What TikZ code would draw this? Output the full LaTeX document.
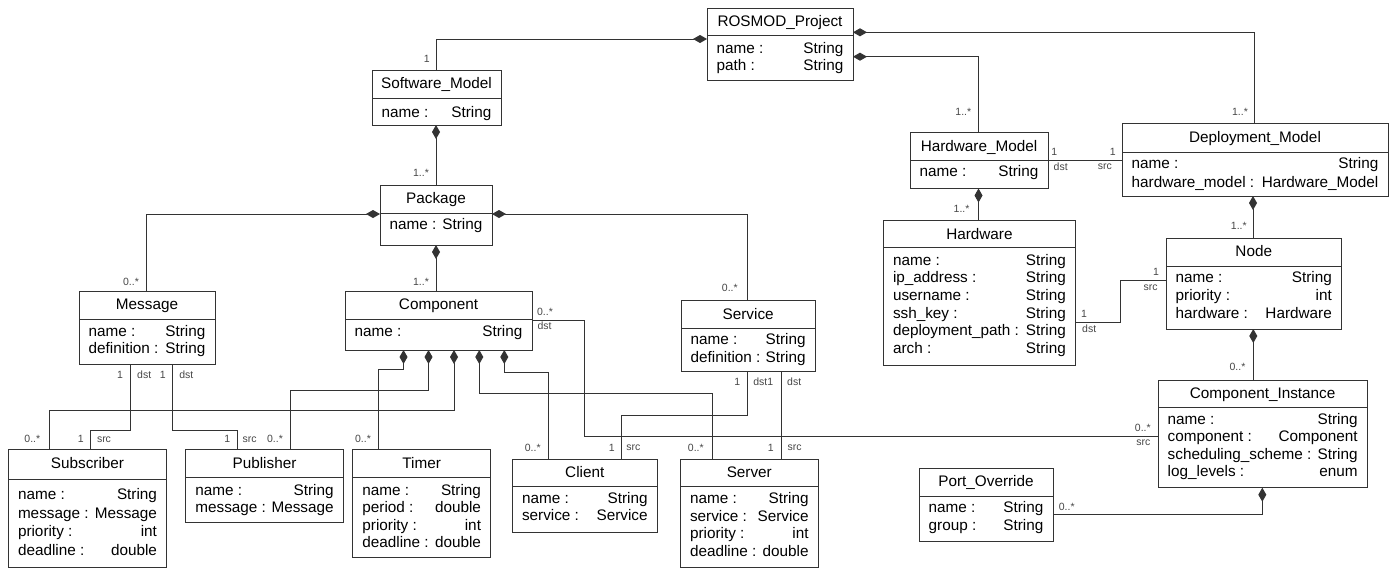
\documentclass[tikz,border=0pt]{standalone}
\usepackage{fontspec}
\setmainfont{Liberation Sans}
\usetikzlibrary{arrows.meta}
\definecolor{linec}{gray}{0.2}
\definecolor{labc}{gray}{0.28}

% class box: id, left, top, right, divider, bottom, title
\newcommand{\umlclass}[7]{%
  \pgfmathsetmacro{\bw}{#4-#2}%
  \pgfmathsetmacro{\bh}{#6-#3}%
  \node[classbox, minimum width=\bw pt, minimum height=\bh pt, anchor=north west] (#1) at (#2,#3) {};
  \draw[boxrule] (#2,#5) -- (#4,#5);
  \pgfmathsetmacro{\cx}{(#2+#4)/2}%
  \pgfmathsetmacro{\ty}{(#3+#5)/2+4.8}%
  \node[classtitle] (#1-title) at (\cx,\ty) {#7};
  \xdef\clsL{#2}\xdef\clsR{#4}\xdef\clsD{#5}\xdef\clsN{#1}%
}
% attribute rows: first baseline below divider, row pitch, name/type list
\newcommand{\umlattrs}[3]{%
  \foreach \lt/\rt [count=\k] in {#3} {
    \pgfmathsetmacro{\ry}{\clsD+#1+(\k-1)*#2}
    \node[attrtext, anchor=base west] (\clsN-l\k) at (\clsL+9.5,\ry) {\lt};
    \node[attrtext, anchor=base east] (\clsN-r\k) at (\clsR-9.5,\ry) {\rt};
  }%
}

\begin{document}
\begin{tikzpicture}[
  x=1pt, y=-1pt,
  classbox/.style={draw=linec, line width=1pt, fill=white, inner sep=0pt, outer sep=0pt, rectangle},
  boxrule/.style={draw=linec, line width=1pt},
  classtitle/.style={font=\fontsize{15.3}{18}\selectfont, inner sep=0pt, anchor=base},
  attrtext/.style={font=\fontsize{15.3}{18}\selectfont, inner sep=0pt},
  mult/.style={font=\fontsize{10.5}{12}\selectfont, text=labc, inner sep=0pt},
  assoc/.style={draw=linec, line width=1pt},
  composite/.style={assoc, {Diamond[length=14pt,width=8pt]}-}
]
\fill[white] (0,0) rectangle (1397,568);
\useasboundingbox (0,0) rectangle (1397,568);

% ---------- classes ----------
\umlclass{rosmod}{707}{8.3}{853}{35}{80}{ROSMOD\_Project}
\umlattrs{18.8}{16.7}{name :/String, path :/String}

\umlclass{swm}{372}{70}{501}{98.3}{125}{Software\_Model}
\umlattrs{19}{17.5}{name :/String}

\umlclass{pkg}{380}{185}{492}{213}{245}{Package}
\umlattrs{16.5}{17.5}{name :/String}

\umlclass{msg}{79}{291}{215}{319}{364.5}{Message}
\umlattrs{17}{17.3}{name :/String, definition :/String}

\umlclass{cmp}{345}{291}{532}{319.3}{350}{Component}
\umlattrs{17}{17.5}{name :/String}

\umlclass{svc}{681}{300.7}{815.3}{328.3}{371.7}{Service}
\umlattrs{16.3}{17.7}{name :/String, definition :/String}

\umlclass{sub}{8.3}{449.3}{166.7}{479}{567.3}{Subscriber}
\umlattrs{20.5}{18.5}{name :/String, message :/Message, priority :/int, deadline :/double}

\umlclass{pub}{185.7}{449.3}{343.3}{477.7}{522.3}{Publisher}
\umlattrs{17.5}{17}{name :/String, message :/Message}

\umlclass{tmr}{352.7}{449.3}{490.7}{477.7}{557.3}{Timer}
\umlattrs{17.5}{17.5}{name :/String, period :/double, priority :/int, deadline :/double}

\umlclass{cli}{512.3}{459.3}{657.3}{486.7}{532.3}{Client}
\umlattrs{17}{16.7}{name :/String, service :/Service}

\umlclass{srv}{680.3}{459.3}{818.3}{486.7}{567.3}{Server}
\umlattrs{17}{17.5}{name :/String, service :/Service, priority :/int, deadline :/double}

\umlclass{hwm}{910}{132.6}{1048}{160.5}{188.5}{Hardware\_Model}
\umlattrs{16.3}{17.5}{name :/String}

\umlclass{dep}{1122}{123.5}{1388}{152}{196}{Deployment\_Model}
\umlattrs{16.5}{18.5}{name :/String, hardware\_model :/Hardware\_Model}

\umlclass{hw}{883.3}{220.7}{1075.5}{247.7}{365.7}{Hardware}
\umlattrs{17.5}{17.6}{name :/String, ip\_address :/String, username :/String, ssh\_key :/String, deployment\_path :/String, arch :/String}

\umlclass{nd}{1166}{238.3}{1341.5}{266}{329}{Node}
\umlattrs{16.8}{17.7}{name :/String, priority :/int, hardware :/Hardware}

\umlclass{ci}{1158}{380}{1367.3}{407.3}{487.7}{Component\_Instance}
\umlattrs{17.2}{17.4}{name :/String, component :/Component, scheduling\_scheme :/String, log\_levels :/enum}

\umlclass{po}{919}{468}{1053}{496}{541}{Port\_Override}
\umlattrs{16.2}{18}{name :/String, group :/String}

% ---------- compositions ----------
\draw[composite] (rosmod.west |- 0,39) -| (swm.north -| 436,0);
\draw[composite] (rosmod.east |- 0,32.3) -| (dep.north -| 1254.3,0);
\draw[composite] (rosmod.east |- 0,56.7) -| (hwm.north -| 978.5,0);
\draw[composite] (swm.south -| 436,0) -- (pkg.north -| 436,0);
\draw[composite] (pkg.west |- 0,214) -| (msg.north -| 146,0);
\draw[composite] (pkg.east |- 0,214) -| (svc.north -| 747.5,0);
\draw[composite] (pkg.south -| 436,0) -- (cmp.north -| 436,0);
\draw[composite] (cmp.south -| 403.5,0) -- (403.5,369.5) -| (tmr.north -| 378.3,0);
\draw[composite] (cmp.south -| 428.5,0) -- (428.5,390) -| (pub.north -| 290,0);
\draw[composite] (cmp.south -| 454,0) -- (454,410) -| (sub.north -| 49.3,0);
\draw[composite] (cmp.south -| 479.3,0) -- (479.3,393.3) -| (srv.north -| 712.7,0);
\draw[composite] (cmp.south -| 504.3,0) -- (504.3,372.5) -| (cli.north -| 548,0);
\draw[composite] (hwm.south -| 978.5,0) -- (hw.north -| 978.5,0);
\draw[composite] (dep.south -| 1253,0) -- (nd.north -| 1253,0);
\draw[composite] (nd.south -| 1253.3,0) -- (ci.north -| 1253.3,0);
\draw[composite] (ci.south -| 1262.3,0) |- (po.east |- 0,514.3);

% ---------- references ----------
\draw[assoc] (cmp.east |- 0,320.5) -| (584.5,436.3) -- (ci.west |- 0,436.3);
\draw[assoc] (svc.south -| 747.5,0) -- (747.5,415) -| (cli.north -| 621,0);
\draw[assoc] (svc.south -| 781.5,0) -- (srv.north -| 781.5,0);
\draw[assoc] (msg.south -| 130,0) -- (130,430.7) -| (sub.north -| 90.7,0);
\draw[assoc] (msg.south -| 172.3,0) -- (172.3,430) -| (pub.north -| 237.3,0);
\draw[assoc] (hwm.east |- 0,160.5) -- (dep.west |- 0,160.5);
\draw[assoc] (hw.east |- 0,322.7) -- (1120.7,322.7) |- (nd.west |- 0,280);

% ---------- multiplicities and roles ----------
\node[mult] (m01) at (426.7,59.3) {1};
\node[mult] (m02) at (1240,111.7) {1..*};
\node[mult] (m03) at (963.3,111.7) {1..*};
\node[mult] (m04) at (421,173) {1..*};
\node[mult] (m05) at (131,282) {0..*};
\node[mult] (m06) at (729.8,288.3) {0..*};
\node[mult] (m07) at (421,282) {1..*};
\node[mult] (m08) at (363,439.3) {0..*};
\node[mult] (m09) at (275,439.3) {0..*};
\node[mult] (m10) at (32.3,439.3) {0..*};
\node[mult] (m11) at (80.7,439.3) {1};
\node[mult] (m12) at (104,439.3) {src};
\node[mult] (m13) at (120,375) {1};
\node[mult] (m14) at (144.2,375) {dst};
\node[mult] (m15) at (162.7,375) {1};
\node[mult] (m16) at (186.3,375) {dst};
\node[mult] (m17) at (227.3,439.3) {1};
\node[mult] (m18) at (249.7,439.3) {src};
\node[mult] (m19) at (532.7,447.7) {0..*};
\node[mult] (m20) at (611.7,447.7) {1};
\node[mult] (m21) at (633.3,447.7) {src};
\node[mult] (m22) at (737.3,381.7) {1};
\node[mult] (m23) at (763.3,381.7) {dst1};
\node[mult] (m24) at (695.8,447.7) {0..*};
\node[mult] (m25) at (794.2,381.7) {dst};
\node[mult] (m26) at (770.7,447.7) {1};
\node[mult] (m27) at (794.5,447.7) {src};
\node[mult] (m28) at (545,311.7) {0..*};
\node[mult] (m29) at (544.5,326) {dst};
\node[mult] (m30) at (1142.8,428.3) {0..*};
\node[mult] (m31) at (1143.3,442.7) {src};
\node[mult] (m32) at (1054.2,152.1) {1};
\node[mult] (m33) at (1060.7,166.6) {dst};
\node[mult] (m34) at (1112.7,152.1) {1};
\node[mult] (m35) at (1104.9,166.6) {src};
\node[mult] (m36) at (961.6,209.2) {1..*};
\node[mult] (m37) at (1238.8,225.7) {1..*};
\node[mult] (m38) at (1156,271.7) {1};
\node[mult] (m39) at (1150.7,287.3) {src};
\node[mult] (m40) at (1084,314.3) {1};
\node[mult] (m41) at (1089.2,329) {dst};
\node[mult] (m42) at (1237.5,366.7) {0..*};
\node[mult] (m43) at (1066.7,506.7) {0..*};
\end{tikzpicture}
\end{document}
